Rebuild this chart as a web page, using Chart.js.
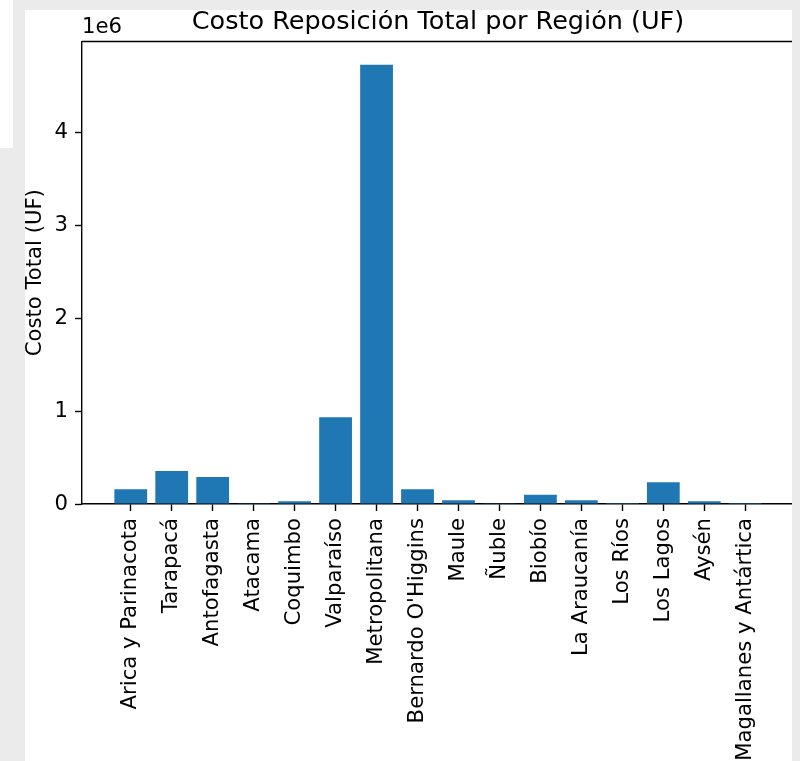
<!DOCTYPE html>
<html>
<head>
<meta charset="utf-8">
<script src="https://cdn.jsdelivr.net/npm/chart.js@4"></script>
<style>
  body { margin: 0; background: #ebebeb; width: 800px; height: 761px; overflow: hidden; }
  .corner { position: absolute; left: 0; top: 0; width: 13px; height: 148px; background: #fff; }
  .panel { position: absolute; left: 25px; top: 10px; width: 767px; height: 751px; background: #fff; overflow: hidden; }
  canvas { position: absolute; left: 0; top: 0; }
</style>
</head>
<body>
<div class="corner"></div>
<div class="panel"><canvas id="myChart" width="775" height="751"></canvas></div>
<script>
// data (UF)
const regions = ['Arica y Parinacota', 'Tarapacá', 'Antofagasta', 'Atacama', 'Coquimbo', 'Valparaíso',
    'Metropolitana', "Bernardo O'Higgins", 'Maule', 'Ñuble', 'Biobío', 'La Araucanía', 'Los Ríos',
    'Los Lagos', 'Aysén', 'Magallanes y Antártica'];
const costs = [160000, 355000, 290000, 2000, 30000, 935000, 4730000, 160000, 40000, 2000, 100000,
    40000, 10000, 235000, 30000, 1000];
const yTicks = [0, 1000000, 2000000, 3000000, 4000000];
const yMax = 4980000;

const font = 'DejaVu Sans';
const tickSize = 21.2;

// top/right spines and the "1e6" offset text
const frame = {
    id: 'frame',
    afterDraw(chart) {
        const a = chart.chartArea;
        const ctx = chart.ctx;
        ctx.save();
        ctx.strokeStyle = '#000';
        ctx.lineWidth = 1.4;
        ctx.beginPath();
        ctx.moveTo(a.left, a.top);
        ctx.lineTo(a.right, a.top);
        ctx.lineTo(a.right, a.bottom);
        ctx.stroke();
        ctx.fillStyle = '#000';
        ctx.font = tickSize + 'px "' + font + '"';
        ctx.textAlign = 'left';
        ctx.textBaseline = 'bottom';
        ctx.fillText('1e6', a.left, a.top - 3);
        ctx.restore();
    }
};

var ctx = document.getElementById('myChart').getContext('2d');
new Chart(ctx, {
    type: 'bar',
    data: {
        datasets: [{
            data: costs.map((v, i) => ({ x: i, y: v })),
            backgroundColor: '#1f77b4',
            barPercentage: 0.8,
            categoryPercentage: 1,
        }]
    },
    plugins: [frame],
    options: {
        responsive: false,
        animation: false,
        devicePixelRatio: 1,
        layout: { padding: { left: 0, right: 6, top: 0, bottom: 0 } },
        plugins: {
            legend: { display: false },
            tooltip: { enabled: false },
            title: {
                display: true,
                text: 'Costo Reposición Total por Región (UF)',
                fullSize: false,
                color: '#000',
                font: { family: font, size: 25.5, weight: 'normal', lineHeight: 1 },
                padding: { top: 0, bottom: 6 },
            },
        },
        scales: {
            x: {
                type: 'linear',
                min: -1.19,
                max: regions.length - 1 + 1.19,
                offset: false,
                afterBuildTicks: (s) => { s.ticks = regions.map((r, i) => ({ value: i })); },
                afterFit: (s) => { s.height = 257; },
                ticks: {
                    autoSkip: false,
                    minRotation: 90,
                    maxRotation: 90,
                    padding: 7,
                    color: '#000',
                    font: { family: font, size: tickSize },
                    callback: (v) => regions[v],
                },
                grid: { offset: false, drawOnChartArea: false, tickLength: 7, tickWidth: 1.4, tickColor: '#000' },
                border: { color: '#000', width: 1.4 },
            },
            y: {
                min: 0,
                max: yMax,
                afterBuildTicks: (s) => { s.ticks = yTicks.map((v) => ({ value: v })); },
                afterFit: (s) => { s.width = 57; },
                ticks: {
                    padding: 7,
                    color: '#000',
                    font: { family: font, size: tickSize },
                    callback: (v) => String(v / 1000000),
                },
                title: {
                    display: true,
                    text: 'Costo Total (UF)',
                    color: '#000',
                    font: { family: font, size: tickSize, lineHeight: 1 },
                    padding: { top: 0, bottom: 0 },
                },
                grid: { drawOnChartArea: false, tickLength: 7, tickWidth: 1.4, tickColor: '#000' },
                border: { color: '#000', width: 1.4 },
            }
        }
    }
});
</script>
</body>
</html>
